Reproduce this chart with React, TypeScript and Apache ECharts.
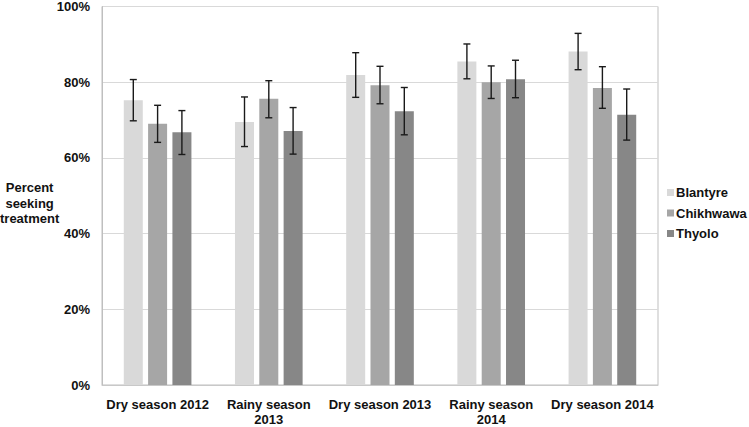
import React, { useEffect, useRef } from "react";
import * as echarts from "echarts";

const categories = ["Dry season 2012", "Rainy season\n2013", "Dry season 2013", "Rainy season\n2014", "Dry season 2014"];
const seriesNames = ["Blantyre", "Chikhwawa", "Thyolo"];
const blantyre = [75.2, 69.5, 81.9, 85.5, 88.1];
const chikhwawa = [69.0, 75.6, 79.2, 80.0, 78.5];
const thyolo = [66.8, 67.1, 72.3, 80.8, 71.4];
const blantyreLow = [69.8, 63.0, 76.0, 80.9, 83.3];
const blantyreHigh = [80.7, 76.1, 87.8, 90.1, 92.9];
const chikhwawaLow = [64.1, 70.6, 74.3, 75.7, 73.1];
const chikhwawaHigh = [73.9, 80.4, 84.2, 84.3, 84.1];
const thyoloLow = [60.9, 61.0, 66.1, 75.9, 64.7];
const thyoloHigh = [72.5, 73.3, 78.6, 85.8, 78.2];
const yTicks = [0, 20, 40, 60, 80, 100];

const colors = ["#d9d9d9", "#a6a6a6", "#878787"];
const BAR_W = 19;
const STEP = 24.3;

function errSeries(low: number[], high: number[], offset: number) {
  return {
    type: "custom",
    silent: true,
    z: 10,
    data: low.map((l, i) => [i, l, high[i]]),
    encode: { x: 0, y: [1, 2] },
    renderItem: (_params: any, api: any) => {
      const x = api.value(0);
      const lo = api.value(1);
      const hi = api.value(2);
      const pTop = api.coord([x, hi]);
      const pBot = api.coord([x, lo]);
      const cx = pTop[0] + offset;
      const st = { stroke: "#1a1a1a", lineWidth: 1.4 };
      return {
        type: "group",
        children: [
          { type: "line", shape: { x1: cx, y1: pTop[1], x2: cx, y2: pBot[1] }, style: st },
          { type: "line", shape: { x1: cx - 3.5, y1: pTop[1], x2: cx + 3.5, y2: pTop[1] }, style: st },
          { type: "line", shape: { x1: cx - 3.5, y1: pBot[1], x2: cx + 3.5, y2: pBot[1] }, style: st },
        ],
      };
    },
  };
}

export default function App() {
  const ref = useRef<HTMLDivElement>(null);
  useEffect(() => {
    if (!ref.current) return;
    const chart = echarts.init(ref.current, null, { renderer: "svg" });
    const font = "'Liberation Sans', Arial, sans-serif";
    const values = [blantyre, chikhwawa, thyolo];
    chart.setOption({
      animation: false,
      textStyle: { fontFamily: font },
      grid: {
        left: 102,
        right: 91,
        top: 5,
        bottom: 37,
        show: true,
        borderColor: "#bfbfbf",
        borderWidth: 1,
        containLabel: false,
      },
      legend: {
        data: seriesNames,
        orient: "vertical",
        left: 662,
        top: 181,
        itemWidth: 7,
        itemHeight: 7,
        itemGap: 7.5,
        icon: "rect",
        textStyle: { fontFamily: font, fontSize: 13, fontWeight: "bold", color: "#111", padding: [0, 0, 0, -3] },
        selectedMode: false,
      },
      graphic: [
        {
          type: "text",
          left: 0,
          top: 180,
          style: {
            text: "Percent\nseeking\ntreatment",
            x: 31,
            textAlign: "center",
            font: `bold 13px ${font}`,
            fill: "#111",
            lineHeight: 15.5,
          },
        },
      ],
      xAxis: {
        type: "category",
        data: categories,
        axisLine: { show: true, lineStyle: { color: "#c8c8c8" } },
        axisTick: { show: false },
        axisLabel: { fontFamily: font, fontSize: 13, fontWeight: "bold", color: "#111", lineHeight: 15, margin: 12, interval: 0 },
      },
      yAxis: {
        type: "value",
        min: 0,
        max: 100,
        interval: 20,
        axisLine: { show: true, lineStyle: { color: "#bfbfbf" } },
        axisTick: { show: false },
        splitLine: { lineStyle: { color: "#d9d9d9" } },
        axisLabel: {
          fontFamily: font,
          fontSize: 13,
          fontWeight: "bold",
          color: "#111",
          margin: 12,
          formatter: (v: number) => (yTicks.includes(v) ? `${v}%` : ""),
        },
      },
      series: [
        ...seriesNames.map((name, k) => ({
          name,
          type: "bar",
          data: values[k],
          barWidth: BAR_W,
          barGap: "28%",
          itemStyle: { color: colors[k] },
        })),
        errSeries(blantyreLow, blantyreHigh, -STEP),
        errSeries(chikhwawaLow, chikhwawaHigh, 0),
        errSeries(thyoloLow, thyoloHigh, STEP),
      ],
    });
    return () => chart.dispose();
  }, []);
  return <div ref={ref} style={{ position: "absolute", left: 0, top: 0, width: 749, height: 427 }} />;
}
